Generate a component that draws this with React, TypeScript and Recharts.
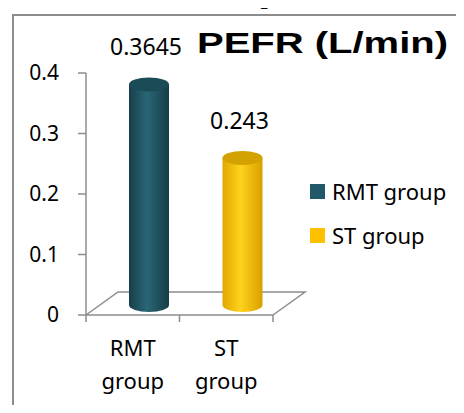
import React from "react";
import * as R from "recharts";
import { BarChart, Bar, XAxis, YAxis, Legend, LabelList, Customized } from "recharts";

const categories = ["RMT group", "ST group"];
const rmtValues = [0.3645, null];
const stValues = [null, 0.243];
const yTicks = [0, 0.1, 0.2, 0.3, 0.4];
const seriesNames = ["RMT group", "ST group"];
const seriesColors = ["#215968", "#FFC000"];

const data = categories.map((name, i) => ({ name, rmt: rmtValues[i], st: stValues[i] }));

const FONT = "'Noto Sans', 'Open Sans', sans-serif";
const GRID = "#8c8c8c";
const DEPTH_X = 32;
const DEPTH_Y = 23;
const SHIFT_X = 16;
const SHIFT_Y = -10;

const CHART_MARGIN = { top: 73, right: 191, bottom: 38, left: 26 };

const Cylinder = (props: any) => {
  const { x, y, width, height, kind } = props;
  if (!height || height <= 0) return <g />;
  const rx = width / 2;
  const ry = 7;
  const x0 = x + SHIFT_X;
  const x1 = x0 + width;
  const cx = x0 + rx;
  const top = y + SHIFT_Y;
  const bottom = y + height + SHIFT_Y;
  const cap = kind === "rmt" ? "#1b4b57" : "#d3a200";
  return (
    <g>
      <path
        d={`M${x0},${top} L${x0},${bottom} A${rx},${ry} 0 0 0 ${x1},${bottom} L${x1},${top} Z`}
        fill={`url(#grad-${kind})`}
      />
      <ellipse cx={cx} cy={top} rx={rx} ry={ry} fill={cap} />
    </g>
  );
};

const ValueLabel = (props: any) => {
  const { x, y, width, value } = props;
  if (value == null) return null;
  return (
    <text
      x={x + width / 2 + SHIFT_X - 3}
      y={y + SHIFT_Y - 29}
      textAnchor="middle"
      fontFamily={FONT}
      fontSize={23}
      fill="#000"
    >
      {value}
    </text>
  );
};

const CategoryTick = (props: any) => {
  const { x, y, payload } = props;
  const words = String(payload.value).split(" ");
  return (
    <text x={x} y={y} textAnchor="middle" fontFamily={FONT} fontSize={22} fill="#000">
      {words.map((w, i) => (
        <tspan key={i} x={x} dy={i === 0 ? 33 : 33}>
          {w}
        </tspan>
      ))}
    </text>
  );
};

const Floor = () => {
  const usePlot = (R as any).usePlotArea;
  const area = usePlot ? usePlot() : null;
  const left = area ? area.x : 86;
  const right = area ? area.x + area.width : 273;
  const bottom = area ? area.y + area.height : 315;
  const mid = (left + right) / 2;
  return (
    <g>
      <polyline
        points={`${left},${bottom} ${left + DEPTH_X},${bottom - DEPTH_Y} ${right + DEPTH_X},${bottom - DEPTH_Y} ${right},${bottom}`}
        fill="none"
        stroke={GRID}
        strokeWidth={1.5}
      />
      {[left, mid, right].map((tx, i) => (
        <line key={i} x1={tx} x2={tx} y1={bottom} y2={bottom + 7} stroke={GRID} strokeWidth={1.5} />
      ))}
    </g>
  );
};

const Decor = () => (
  <g>
    <line x1={3} x2={3} y1={0} y2={413} stroke={GRID} strokeWidth={2} />
    <rect x={13} y={15} width={450} height={420} fill="none" stroke={GRID} strokeWidth={2} />
    <text
      x={272}
      y={4}
      textAnchor="middle"
      fontFamily="'Liberation Serif', serif"
      fontWeight="bold"
      fontSize={26}
      fill="#000"
    >
      Graph 2.5
    </text>
    <text
      x={197}
      y={53}
      textLength={251}
      lengthAdjust="spacingAndGlyphs"
      fontFamily="'Liberation Sans', Arial, sans-serif"
      fontWeight="bold"
      fontSize={29}
      fill="#000"
    >
      PEFR (L/min)
    </text>
  </g>
);

const LegendBox = () => (
  <div style={{ fontFamily: FONT, fontSize: 22, color: "#000" }}>
    {seriesNames.map((n, i) => (
      <div key={n} style={{ display: "flex", alignItems: "center", height: 44, lineHeight: "22px" }}>
        <span
          style={{ display: "inline-block", width: 15, height: 15, background: seriesColors[i], marginRight: 7 }}
        />
        <span>{n}</span>
      </div>
    ))}
  </div>
);

export default function App() {
  return (
    <div style={{ position: "relative", margin: -8, width: 464, height: 413, background: "#fff", overflow: "hidden" }}>
      <BarChart width={464} height={413} data={data} margin={CHART_MARGIN}>
        <defs>
          <linearGradient id="grad-rmt" x1="0" y1="0" x2="1" y2="0">
            <stop offset="0%" stopColor="#173f49" />
            <stop offset="45%" stopColor="#2a6676" />
            <stop offset="100%" stopColor="#163c46" />
          </linearGradient>
          <linearGradient id="grad-st" x1="0" y1="0" x2="1" y2="0">
            <stop offset="0%" stopColor="#e0a800" />
            <stop offset="45%" stopColor="#ffd21c" />
            <stop offset="100%" stopColor="#d9a000" />
          </linearGradient>
        </defs>
        <Customized component={<Decor />} />
        <Customized component={<Floor />} />
        <XAxis
          dataKey="name"
          height={60}
          axisLine={{ stroke: GRID, strokeWidth: 1.5 }}
          tickLine={false}
          tick={<CategoryTick />}
          interval={0}
        />
        <YAxis
          width={60}
          domain={[0, 0.4]}
          ticks={yTicks}
          axisLine={{ stroke: GRID, strokeWidth: 1.5 }}
          tickLine={{ stroke: GRID, strokeWidth: 1.5 }}
          tickSize={8}
          tickMargin={19}
          tick={{ fill: "#000", fontSize: 21, fontFamily: FONT }}
        />
        <Legend
          layout="horizontal"
          verticalAlign="middle"
          align="center"
          content={<LegendBox />}
          wrapperStyle={{ position: "absolute", left: 310, top: 169, width: 150 }}
        />
        <Bar
          dataKey="rmt"
          name={seriesNames[0]}
          stackId="a"
          barSize={40}
          fill={seriesColors[0]}
          shape={(p: any) => <Cylinder {...p} kind="rmt" />}
          isAnimationActive={false}
        >
          <LabelList dataKey="rmt" content={<ValueLabel />} />
        </Bar>
        <Bar
          dataKey="st"
          name={seriesNames[1]}
          stackId="a"
          barSize={40}
          fill={seriesColors[1]}
          shape={(p: any) => <Cylinder {...p} kind="st" />}
          isAnimationActive={false}
        >
          <LabelList dataKey="st" content={<ValueLabel />} />
        </Bar>
      </BarChart>
    </div>
  );
}
